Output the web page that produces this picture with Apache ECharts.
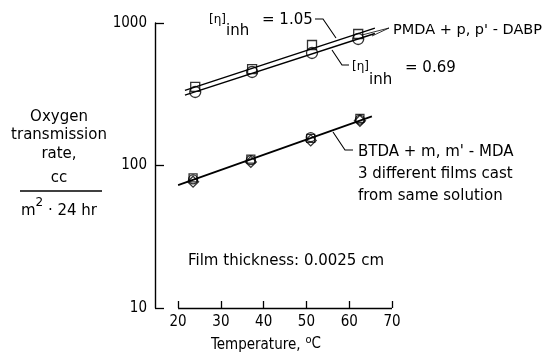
<!DOCTYPE html>
<html><head><meta charset="utf-8">
<script src="https://cdn.jsdelivr.net/npm/echarts@6/dist/echarts.min.js"></script>
<style>html,body{margin:0;padding:0;background:#fff}#c{width:550px;height:355px}</style>
</head><body><div id="c"></div>
<script>
// ---- data ----
const xTicks = [20, 30, 40, 50, 60, 70];
const yTicks = [10, 100, 1000];
// PMDA + p,p'-DABP, [eta]inh = 1.05 (squares) and 0.69 (circles)
const pmdaTemps = [24, 37.3, 51.3, 62.1];
const pmda105 = [356, 475, 701, 837];
const pmda069 = [328, 453, 616, 772];
const pmda105Fit = [[21.6, 337], [66, 920]];
const pmda069Fit = [[21.6, 312], [66, 844]];
// BTDA + m,m'-MDA, 3 films
const btdaTemps = [23.5, 37, 51, 62.5];
const btdaFilmA = [80, 109, 158, 210];   // circles
const btdaFilmB = [82, 111, 155, 214];   // squares
const btdaFilmC = [77, 106, 150, 206];   // diamonds
const btdaFit = [[20, 72.8], [65.3, 221]];

const FONT = '"DejaVu Sans",sans-serif';
const CFONT = '"DejaVu Sans Condensed","DejaVu Sans",sans-serif';
const pts = (xs, ys) => xs.map((x, i) => [x, ys[i]]);
const hollow = (sym, size, data) => ({
  type: 'scatter', data, symbol: sym, symbolSize: size,
  itemStyle: { color: 'rgba(0,0,0,0)', borderColor: '#000', borderWidth: 1.3 },
  z: 5, silent: true
});
const fit = (data, w) => ({
  type: 'line', data, symbol: 'none', silent: true,
  lineStyle: { color: '#000', width: w }
});

const cv = document.createElement('canvas').getContext('2d');
const W = (text, size, fam) => { cv.font = size + 'px ' + (fam || FONT); return cv.measureText(text).width; };

const chart = echarts.init(document.getElementById('c'), null, { renderer: 'canvas' });
const T = (x, y, text, size, extra) => ({
  type: 'text', x, y, silent: true,
  style: Object.assign({ text, fill: '#000', fontSize: size, fontFamily: FONT, textVerticalAlign: 'middle' }, extra || {})
});
const L = (points, w) => ({
  type: 'polyline', silent: true, shape: { points },
  style: { stroke: '#000', lineWidth: w || 1, fill: null }
});

// composite labels laid out by measured width
const mW = W('m', 15), supW = W('2', 12), restW = W(' · 24 hr', 15);
const mStart = 59 - (mW + supW + restW) / 2;
const tW = W('Temperature,', 15, CFONT), oW = W('o', 11, CFONT), cW = W('C', 15, CFONT);
const tStart = 266 - (tW + 5 + oW + cW) / 2;

chart.setOption({
  animation: false,
  backgroundColor: '#fff',
  grid: { left: 155, right: 158, top: 23, bottom: 47 },
  xAxis: {
    type: 'value', min: 14.6, max: 70,
    axisLine: { show: false },
    splitLine: { show: false },
    axisTick: { show: true, inside: true, length: 7, customValues: xTicks, lineStyle: { color: '#000', width: 1.3 } },
    axisLabel: { customValues: xTicks, margin: 7, color: '#000', fontSize: 15, fontFamily: CFONT }
  },
  yAxis: {
    type: 'log', logBase: 10, min: 10, max: 1000,
    axisLine: { show: true, lineStyle: { color: '#000', width: 1.4 } },
    splitLine: { show: false },
    minorTick: { show: false },
    axisTick: { show: true, inside: true, length: 9, lineStyle: { color: '#000', width: 1.3 } },
    axisLabel: { margin: 8, color: '#000', fontSize: 15, fontFamily: CFONT,
      formatter: v => (yTicks.indexOf(Math.round(v)) >= 0 ? String(Math.round(v)) : '') }
  },
  series: [
    Object.assign(fit(pmda105Fit, 1.4), {
      markLine: { silent: true, symbol: 'none', label: { show: false },
        lineStyle: { color: '#000', width: 1.4, type: 'solid' },
        data: [[{ coord: [xTicks[0], yTicks[0]] }, { coord: [xTicks[xTicks.length - 1], yTicks[0]] }]] }
    }),
    fit(pmda069Fit, 1.4),
    hollow('rect', 9, pts(pmdaTemps, pmda105)),
    hollow('circle', 11, pts(pmdaTemps, pmda069)),
    fit(btdaFit, 1.8),
    hollow('circle', 9, pts(btdaTemps, btdaFilmA)),
    hollow('rect', 8, pts(btdaTemps, btdaFilmB)),
    hollow('diamond', 11, pts(btdaTemps, btdaFilmC))
  ],
  graphic: [
    // y-axis title block
    T(59, 117, 'Oxygen', 15, { textAlign: 'center' }),
    T(59, 135, 'transmission', 15, { textAlign: 'center' }),
    T(59, 154, 'rate,', 15, { textAlign: 'center' }),
    T(59, 178, 'cc', 15, { textAlign: 'center' }),
    L([[20, 191], [102, 191]], 1.3),
    T(mStart, 211, 'm', 15),
    T(mStart + mW, 203, '2', 12),
    T(mStart + mW + supW, 211, ' · 24 hr', 15),
    // x-axis title
    T(tStart, 345, 'Temperature,', 15, { fontFamily: CFONT }),
    T(tStart + tW + 5, 340, 'o', 11, { fontFamily: CFONT }),
    T(tStart + tW + 5 + oW, 344, 'C', 15, { fontFamily: CFONT }),
    // [eta]inh = 1.05
    T(209, 20, '[η]', 12),
    T(226, 31, 'inh', 15),
    T(262, 20, '= 1.05', 15),
    L([[315, 19], [323, 19], [336, 38]], 1.1),
    // [eta]inh = 0.69
    T(352, 67, '[η]', 12),
    T(369, 80, 'inh', 15),
    T(405, 68, '= 0.69', 15),
    L([[332, 50], [342, 65], [349, 65]], 1.1),
    // PMDA label
    T(393, 30, "PMDA + p, p' - DABP", 14.5),
    L([[362, 35], [389, 28]], 0.8),
    L([[372, 36], [389, 28]], 0.8),
    // BTDA label
    L([[333, 132], [345, 150], [353, 150]], 1.1),
    T(358, 152, "BTDA + m, m' - MDA", 15),
    T(358, 174, '3 different films cast', 15),
    T(358, 196, 'from same solution', 15),
    // film thickness
    T(188, 261, 'Film thickness: 0.0025 cm', 15)
  ]
});
</script></body></html>
